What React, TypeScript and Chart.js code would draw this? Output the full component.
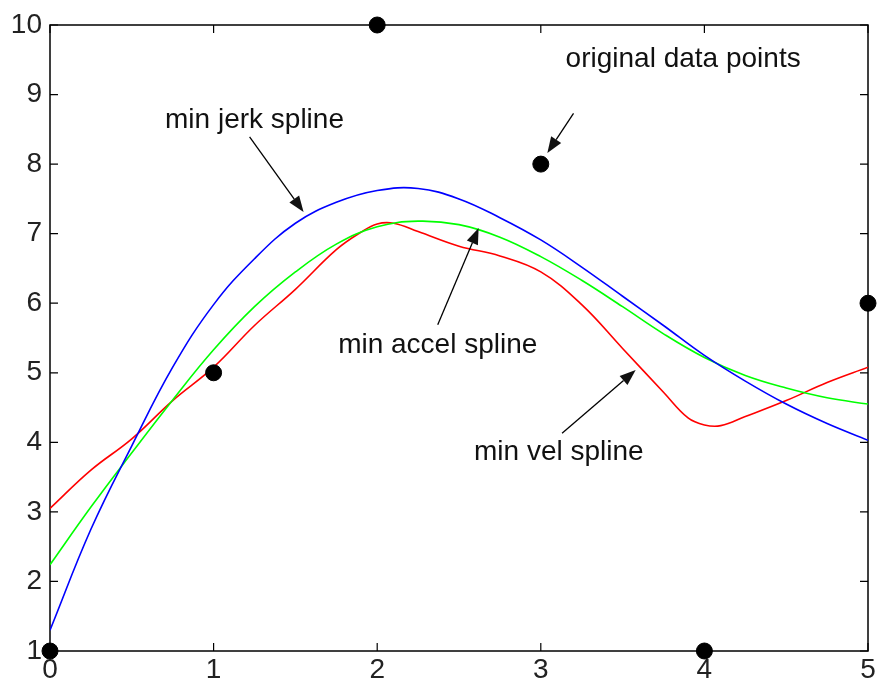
import React, { useEffect, useRef } from "react";
import { Chart, registerables } from "chart.js";

Chart.register(...registerables);

// Sample positions along x for the three fitted splines
const splineX = [0, 0.25, 0.5, 0.75, 1, 1.25, 1.5, 1.75, 2, 2.25, 2.5, 2.75, 3, 3.25, 3.5, 3.75, 4, 4.25, 4.5, 4.75, 5];
const jerkY = [1.3, 2.75, 3.95, 5.08, 5.98, 6.64, 7.15, 7.45, 7.62, 7.65, 7.5, 7.23, 6.91, 6.52, 6.1, 5.68, 5.25, 4.88, 4.55, 4.27, 4.03];
const accelY = [2.24, 3.07, 3.85, 4.61, 5.33, 5.95, 6.45, 6.85, 7.1, 7.18, 7.13, 6.95, 6.67, 6.33, 5.95, 5.56, 5.22, 4.96, 4.78, 4.64, 4.55];

// The velocity spline has sharper bends, so it is sampled more densely near them
const velX = [0, 0.25, 0.5, 0.75, 1, 1.25, 1.5, 1.75, 1.9, 2.0, 2.1, 2.25, 2.5, 2.75, 3, 3.25, 3.5, 3.75, 3.9, 4.0, 4.1, 4.25, 4.5, 4.75, 5];
const velY = [3.05, 3.6, 4.05, 4.6, 5.08, 5.68, 6.2, 6.77, 7.02, 7.14, 7.15, 7.03, 6.82, 6.68, 6.45, 5.98, 5.35, 4.72, 4.35, 4.25, 4.24, 4.37, 4.6, 4.86, 5.08];

// Original data points
const pointX = [0, 1, 2, 3, 4, 5];
const pointY = [1, 5, 10, 8, 1, 6];

// Axis tick values
const xTicks = [0, 1, 2, 3, 4, 5];
const yTicks = [1, 2, 3, 4, 5, 6, 7, 8, 9, 10];

// Text labels with arrows, given in data coordinates
const notes = [
  { text: "min jerk spline", x: 1.25, y: 8.63, ax: 1.22, ay: 8.39, hx: 1.55, hy: 7.31 },
  { text: "original data points", x: 3.87, y: 9.5, ax: 3.2, ay: 8.73, hx: 3.04, hy: 8.16 },
  { text: "min accel spline", x: 2.37, y: 5.4, ax: 2.37, ay: 5.69, hx: 2.62, hy: 7.08 },
  { text: "min vel spline", x: 3.11, y: 3.85, ax: 3.13, ay: 4.13, hx: 3.58, hy: 5.04 },
];

const FONT = '"Liberation Sans", Arial, sans-serif';

const toXY = (xs: number[], ys: number[]) => xs.map((x, i) => ({ x, y: ys[i] }));

// Box around the axes with inward ticks on all four sides
const framePlugin = {
  id: "frame",
  beforeDatasetsDraw(chart: any) {
    const { ctx, chartArea: a, scales } = chart;
    const len = 8;
    ctx.save();
    ctx.strokeStyle = "#000";
    ctx.lineWidth = 1.5;
    ctx.strokeRect(a.left, a.top, a.right - a.left, a.bottom - a.top);
    ctx.lineWidth = 1.2;
    ctx.beginPath();
    for (const v of xTicks) {
      const px = scales.x.getPixelForValue(v);
      ctx.moveTo(px, a.bottom);
      ctx.lineTo(px, a.bottom - len);
      ctx.moveTo(px, a.top);
      ctx.lineTo(px, a.top + len);
    }
    for (const v of yTicks) {
      const py = scales.y.getPixelForValue(v);
      ctx.moveTo(a.left, py);
      ctx.lineTo(a.left + len, py);
      ctx.moveTo(a.right, py);
      ctx.lineTo(a.right - len, py);
    }
    ctx.stroke();
    ctx.restore();
  },
};

// Annotation text and arrows
const notesPlugin = {
  id: "notes",
  afterDatasetsDraw(chart: any) {
    const { ctx, scales } = chart;
    const sx = (v: number) => scales.x.getPixelForValue(v);
    const sy = (v: number) => scales.y.getPixelForValue(v);
    ctx.save();
    ctx.fillStyle = "#111";
    ctx.strokeStyle = "#000";
    ctx.font = `28px ${FONT}`;
    ctx.textAlign = "center";
    ctx.textBaseline = "middle";
    for (const n of notes) {
      ctx.fillText(n.text, sx(n.x), sy(n.y));
      const x0 = sx(n.ax), y0 = sy(n.ay), x1 = sx(n.hx), y1 = sy(n.hy);
      const ang = Math.atan2(y1 - y0, x1 - x0);
      const hl = 16, hw = 6;
      const bx = x1 - hl * Math.cos(ang), by = y1 - hl * Math.sin(ang);
      ctx.lineWidth = 1.3;
      ctx.beginPath();
      ctx.moveTo(x0, y0);
      ctx.lineTo(bx, by);
      ctx.stroke();
      ctx.beginPath();
      ctx.moveTo(x1, y1);
      ctx.lineTo(bx + hw * Math.sin(ang), by - hw * Math.cos(ang));
      ctx.lineTo(bx - hw * Math.sin(ang), by + hw * Math.cos(ang));
      ctx.closePath();
      ctx.fill();
    }
    ctx.restore();
  },
};

export default function App() {
  const ref = useRef<HTMLCanvasElement>(null);

  useEffect(() => {
    document.body.style.margin = "0";
    const canvas = ref.current;
    if (!canvas) return;
    const line = (data: any[], color: string) => ({
      type: "line" as const,
      data,
      borderColor: color,
      borderWidth: 1.6,
      pointRadius: 0,
      tension: 0.4,
      fill: false,
      order: 1,
    });
    const chart = new Chart(canvas, {
      type: "scatter",
      data: {
        datasets: [
          line(toXY(splineX, jerkY), "#0000ff"),
          line(toXY(splineX, accelY), "#00ff00"),
          line(toXY(velX, velY), "#ff0000"),
          {
            type: "scatter" as const,
            data: toXY(pointX, pointY),
            backgroundColor: "#000",
            borderColor: "#000",
            pointRadius: 8,
            pointHoverRadius: 8,
            clip: false as any,
            order: 0,
          },
        ],
      },
      options: {
        animation: false,
        responsive: false,
        maintainAspectRatio: false,
        events: [],
        layout: { padding: { top: 25, right: 12, left: 0, bottom: 0 } },
        plugins: { legend: { display: false }, tooltip: { enabled: false } },
        scales: {
          x: {
            type: "linear",
            min: 0,
            max: 5,
            grid: { display: false, drawTicks: false },
            border: { display: false },
            afterBuildTicks: (s: any) => {
              s.ticks = xTicks.map((v) => ({ value: v }));
            },
            afterFit: (s: any) => {
              s.height = 36;
            },
            ticks: { padding: 2, color: "#222", font: { family: FONT, size: 28 }, maxRotation: 0 },
          },
          y: {
            type: "linear",
            min: 1,
            max: 10,
            grid: { display: false, drawTicks: false },
            border: { display: false },
            afterBuildTicks: (s: any) => {
              s.ticks = yTicks.map((v) => ({ value: v }));
            },
            afterFit: (s: any) => {
              s.width = 50;
            },
            ticks: { padding: 8, color: "#222", font: { family: FONT, size: 28 } },
          },
        },
      },
      plugins: [framePlugin, notesPlugin],
    } as any);
    return () => chart.destroy();
  }, []);

  return (
    <div style={{ width: 880, height: 687, background: "#fff" }}>
      <canvas ref={ref} width={880} height={687} style={{ display: "block" }} />
    </div>
  );
}
